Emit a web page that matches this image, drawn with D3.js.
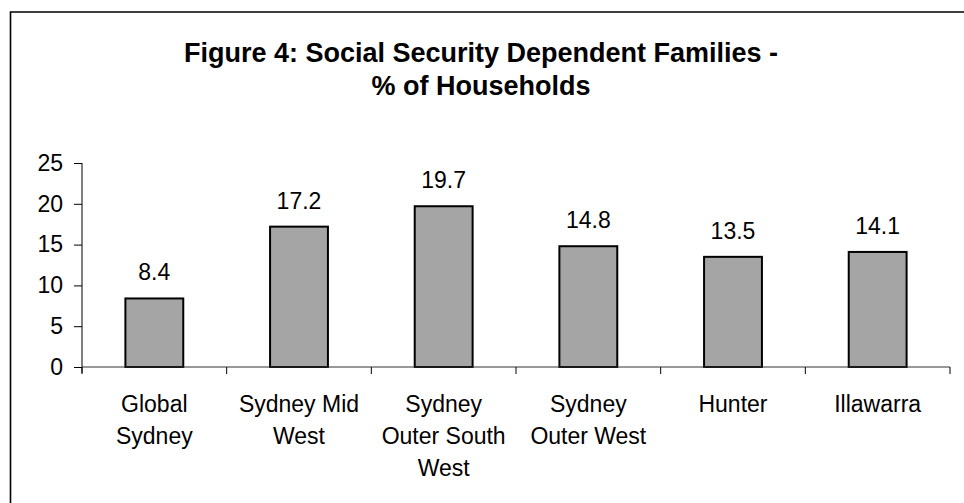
<!DOCTYPE html>
<html>
<head>
<meta charset="utf-8">
<script src="https://cdn.jsdelivr.net/npm/d3@7"></script>
<style>
  html, body { margin: 0; padding: 0; background: #fff; }
  svg { display: block; font-family: "Liberation Sans", Arial, sans-serif; }
</style>
</head>
<body>
<div id="chart"></div>
<script>
// data
const categories = ['Global Sydney', 'Sydney Mid West', 'Sydney Outer South West', 'Sydney Outer West', 'Hunter', 'Illawarra'];
const labelLines = [['Global', 'Sydney'], ['Sydney Mid', 'West'], ['Sydney', 'Outer South', 'West'], ['Sydney', 'Outer West'], ['Hunter'], ['Illawarra']];
const values = [8.4, 17.2, 19.7, 14.8, 13.5, 14.1];
const yTicks = [0, 5, 10, 15, 20, 25];
const titleLines = ['Figure 4: Social Security Dependent Families -', '% of Households'];

const width = 964, height = 503;
const svg = d3.select('#chart').append('svg')
    .attr('width', width).attr('height', height);

// frame (only top and left edges show in the picture)
svg.append('path')
    .attr('d', `M10.5,${height} V12 H${width}`)
    .attr('fill', 'none').attr('stroke', '#000').attr('stroke-width', 1.6);

// title
svg.append('g').selectAll('text')
  .data(titleLines)
  .join('text')
    .attr('x', 481)
    .attr('y', (d, i) => 62 + i * 33)
    .attr('text-anchor', 'middle')
    .attr('font-size', 27).attr('font-weight', 'bold')
    .text(d => d);

const x = d3.scaleBand().domain(categories).range([82, 950])
    .paddingInner(0.6).paddingOuter(0.3);
const y = d3.scaleLinear().domain([0, 25]).range([367, 163]);

// y axis
const yAxis = svg.append('g').attr('transform', 'translate(82,0)')
    .call(d3.axisLeft(y).tickValues(yTicks).tickSize(8).tickPadding(11));
yAxis.select('.domain').attr('d', `M0,${y(25)}V${y(0) + 6}`).attr('stroke', '#000');
yAxis.selectAll('.tick line').attr('stroke', '#000');
yAxis.selectAll('.tick text').attr('font-size', 23).attr('fill', '#000')
    .attr('font-family', '"Liberation Sans", Arial, sans-serif');

// bars
svg.append('g').selectAll('rect')
  .data(values)
  .join('rect')
    .attr('x', (d, i) => x(categories[i]))
    .attr('y', d => y(d))
    .attr('width', x.bandwidth())
    .attr('height', d => y(0) - y(d))
    .attr('fill', '#a5a5a5')
    .attr('stroke', '#000').attr('stroke-width', 2);

// x axis line and ticks at category boundaries
const xa = svg.append('g');
xa.append('line')
    .attr('x1', 82).attr('x2', 950).attr('y1', y(0)).attr('y2', y(0))
    .attr('stroke', '#333').attr('stroke-width', 1);
xa.selectAll('line.tk')
  .data(d3.range(categories.length + 1))
  .join('line').attr('class', 'tk')
    .attr('x1', i => 82 + i * x.step()).attr('x2', i => 82 + i * x.step())
    .attr('y1', y(0)).attr('y2', y(0) + 7)
    .attr('stroke', '#000');

// category labels
const cat = svg.append('g').selectAll('text')
  .data(labelLines)
  .join('text')
    .attr('text-anchor', 'middle')
    .attr('font-size', 23);
cat.selectAll('tspan')
  .data((d, i) => d.map(t => ({ t, i })))
  .join('tspan')
    .attr('x', d => x(categories[d.i]) + x.bandwidth() / 2)
    .attr('y', (d, j) => 412 + j * 32)
    .text(d => d.t);

// value labels
svg.append('g').selectAll('text')
  .data(values)
  .join('text')
    .attr('x', (d, i) => x(categories[i]) + x.bandwidth() / 2)
    .attr('y', d => y(d) - 18)
    .attr('text-anchor', 'middle')
    .attr('font-size', 23)
    .text(d => d3.format('.1f')(d));
</script>
</body>
</html>
